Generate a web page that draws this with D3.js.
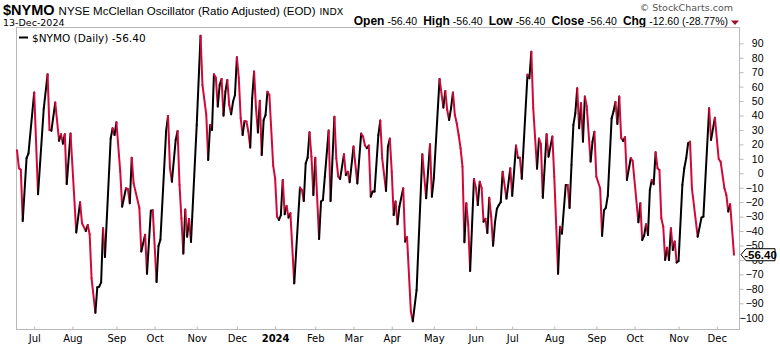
<!DOCTYPE html>
<html><head><meta charset="utf-8">
<script src="https://cdn.jsdelivr.net/npm/d3@7"></script>
<style>body{margin:0;background:#fff}svg{display:block}</style>
</head><body><svg id="c" width="780" height="345"></svg>
<script>
// trading-day index (0 = first session shown, 375 = 13-Dec-2024) and oscillator values
const dayIdx = [0,1,2,3,5,6,9,11,14,16,17,18,20,22,23,24,25,26,28,31,33,34,36,37,38,39,41,42,43,44,45,46,49,50,51,52,54,55,57,58,59,60,61,64,65,67,68,70,71,73,74,75,78,79,80,81,83,84,85,86,87,88,89,90,91,94,96,97,99,100,101,102,103,104,105,106,107,108,109,110,111,112,113,114,115,116,117,118,119,120,121,122,123,124,125,126,127,128,129,130,131,132,134,135,136,137,138,139,140,141,142,143,145,148,149,150,151,152,153,154,155,156,158,159,160,161,163,164,166,167,168,169,171,172,173,174,176,178,180,181,182,183,184,185,186,187,189,190,191,193,194,195,196,197,198,199,200,202,203,204,206,207,209,212,214,216,217,218,221,223,224,225,226,227,228,229,230,231,232,233,234,235,236,237,239,240,241,242,243,244,245,246,247,248,249,250,251,252,253,254,256,258,259,261,262,263,264,267,268,269,270,272,273,274,275,277,278,280,281,283,284,285,287,288,289,290,291,292,293,294,295,296,297,298,300,301,302,303,305,306,307,308,309,311,312,313,314,315,316,317,318,319,321,322,325,326,327,328,329,330,331,332,333,334,335,336,337,338,339,340,341,342,343,344,345,346,348,349,350,351,352,353,356,358,359,362,363,365,367,368,370,371,372,373,375];
const nymo = [16,3.5,2.5,-33,10.5,13.8,56,-14.5,45,68.5,30,29.5,49,22.5,27,20.5,27,-7.5,27.5,-41,-20,-34.6,-40,-35.8,-42.2,-72.7,-96.5,-79,-78.5,-75.5,-38,-58,24.2,31.2,26.5,35.3,1.2,-23.1,-10.4,-10.9,-20.8,10.8,-7,-24,-54.2,-42.5,-69.5,-26,-25.6,-75.2,-50.4,-46,29.3,39.7,3.5,-5.8,23.1,29.3,-8.1,-31.2,-55.6,-25,-43.9,-31.7,-47.5,33.5,95.3,61.2,40.4,9.2,33.5,30,68.5,66.2,46.2,61.2,65.3,39.9,56.5,64.6,47.3,40.8,49.6,54.2,80.3,66,38.1,26.5,36.2,35.8,28.9,17.8,51.9,70.4,45,28.3,50.2,12.7,36.9,40.4,56.5,54.2,5.2,-3.5,-30,-32.3,-28.9,-4.6,-28.4,-22.6,-30.7,-27.7,-76.2,-9.9,-11.5,-19.2,6.9,10.8,28.4,11.5,-15,10.8,-45.5,-19.6,-18.5,-2.3,29.6,-19.2,39.2,10.4,-2.3,-3.9,13.1,-1.2,1.1,-6.2,18.5,-7,27.5,25.4,19.2,17.3,19.2,-16.2,-12.7,-12.7,26.5,36.5,10.4,-12.2,18.5,24,1.1,-28.9,-19.6,-35.3,-23.1,-10.4,-47.3,-44.3,-95.8,-102.5,-80.8,13.2,-17.3,20.1,-16.2,-3.5,65.3,45.5,57,43.8,36.9,45,56,40.4,34.6,26.5,17.3,4.6,-47.8,-20.8,-35.8,-67.6,-3.9,-10,-22,-5.8,-10,-33.5,-31.5,-41.3,-17,-30,-50.2,-34,-24.5,-22,-20,1.1,-17.5,3.5,-15.6,19.2,10.8,10.8,-3.8,68.3,65.8,84.2,45,3.2,24,20.2,-17,27,11.5,25.4,-2.3,-69.5,-37,-41.8,-8.1,-8.1,-24,5.8,33.5,41.5,58.8,31.2,48.5,21.9,53.1,46.2,8.1,21.9,28.8,-2.3,-10.4,-43.3,-25.8,-23.8,-15.5,38,43,49.4,34.2,53.1,24.5,22.4,25,-4.6,10.6,8.5,-33.9,-20.8,-46.2,-43.2,-35.3,-42.7,-11.5,-4.6,-7.6,14.5,3.5,2.3,-31.2,-37,-60,-51.5,-60,-38.1,-53.1,-47.3,-61.8,-60.7,-8.1,3.5,10.4,20.8,21.9,-10.4,-43.9,-30.7,-30,45,23.1,38.5,9.9,8.1,-10.4,-15,-26.5,-21.5,-56.4];
const monthLabels = ["Jul","Aug","Sep","Oct","Nov","Dec","2024","Feb","Mar","Apr","May","Jun","Jul","Aug","Sep","Oct","Nov","Dec"];
const monthIdx = [9,29,52,72,94,115,135,156,176,196,218,240,259,281,303,323,346,366];
const yTicks = [-100,-90,-80,-70,-60,-50,-40,-30,-20,-10,0,10,20,30,40,50,60,70,80,90];
const lastValue = "-56.40";
const headerItems = [["Open","-56.40"],["High","-56.40"],["Low","-56.40"],["Close","-56.40"],["Chg","-12.60 (-28.77%)"]];

const svg = d3.select("#c");
const UP = "#000000", DOWN = "#d3083a";
const x = d3.scaleLinear().domain([0,375]).range([17,734]);
const y = d3.scaleLinear().domain([-100,90]).range([317.7,43.3]);
const L = 16.5, R = 739.5, T = 27.5, B = 329.5;

// title
const t = svg.append("text").attr("x",3).attr("y",15).attr("font-family","Liberation Sans, Arial, sans-serif").attr("fill","#000");
t.append("tspan").attr("font-size","14.5px").attr("font-weight","bold").text("$NYMO");
t.append("tspan").attr("font-size","11.5px").attr("dx",4).text("NYSE McClellan Oscillator (Ratio Adjusted) (EOD)");
t.append("tspan").attr("font-size","9.5px").attr("font-family","DejaVu Sans, sans-serif").attr("dx",4).text("INDX");
svg.append("text").attr("x",3).attr("y",25.5).attr("font-family","DejaVu Sans, sans-serif").attr("font-size","9.5px").text("13-Dec-2024");
svg.append("text").attr("x",733).attr("y",11).attr("text-anchor","end").attr("font-family","DejaVu Sans, sans-serif").attr("font-size","9.5px").attr("fill","#555").text("\u00A9 StockCharts.com");
const h = svg.append("text").attr("x",728).attr("y",25).attr("text-anchor","end").attr("font-family","Liberation Sans, Arial, sans-serif").attr("fill","#000");
headerItems.forEach((d,i)=>{
  h.append("tspan").attr("font-weight","bold").attr("font-size","12px").attr("dx", i? 6:0).text(d[0]);
  h.append("tspan").attr("font-size","10.5px").attr("dx",3).text(d[1]);
});
svg.append("path").attr("d","M731,20.5L739,20.5L735,25Z").attr("fill","#a0102a");

// frame
svg.append("rect").attr("x",L).attr("y",T).attr("width",R-L).attr("height",B-T).attr("fill","none").attr("stroke","#b8b8b8").attr("stroke-width",1);

// y axis
const ya = svg.append("g").attr("transform",`translate(${R},0)`)
  .call(d3.axisRight(y).tickValues(yTicks).tickSize(4).tickFormat(d3.format("d")));
ya.select(".domain").remove();
ya.selectAll(".tick line").attr("stroke","#b8b8b8");
ya.selectAll(".tick text").attr("x",24).attr("text-anchor","end").attr("font-family","Liberation Sans, Arial, sans-serif").attr("font-size","10.5px").attr("fill","#000");

// x axis
const xa = svg.append("g").attr("transform",`translate(0,${B})`)
  .call(d3.axisBottom(x).tickValues(monthIdx).tickSize(-3).tickFormat((d,i)=>monthLabels[i]));
xa.select(".domain").remove();
xa.selectAll(".tick line").attr("stroke","#b8b8b8");
xa.selectAll(".tick text").attr("y",5).attr("dy","0.71em").attr("font-family","DejaVu Sans, sans-serif").attr("font-size","10px").attr("fill","#000")
  .attr("font-weight",(d,i)=>monthLabels[i]==="2024"?"bold":"normal");

// legend
svg.append("line").attr("x1",19).attr("x2",28).attr("y1",37.5).attr("y2",37.5).attr("stroke","#000").attr("stroke-width",2);
svg.append("text").attr("x",32).attr("y",41.5).attr("font-family","DejaVu Sans, sans-serif").attr("font-size","10.5px").text("$NYMO (Daily) " + lastValue);

// line segments coloured by direction
const pts = dayIdx.map((d,i)=>[x(d), y(nymo[i])]);
const segs = d3.pairs(pts.map((p,i)=>({p, v:nymo[i]})));
svg.append("g").selectAll("line").data(segs).join("line")
  .attr("x1",d=>d[0].p[0]).attr("y1",d=>d[0].p[1])
  .attr("x2",d=>d[1].p[0]).attr("y2",d=>d[1].p[1])
  .attr("stroke",d=>d[1].v>=d[0].v?UP:DOWN)
  .attr("stroke-width",2).attr("stroke-linecap","round");

// last value tag
const ly = y(nymo[nymo.length-1]);
svg.append("path").attr("d",`M741,${ly}L746,${ly-6}L775,${ly-6}L775,${ly+6}L746,${ly+6}Z`).attr("fill","#fff").attr("stroke","#000").attr("stroke-width",1);
svg.append("text").attr("x",760.5).attr("y",ly+4).attr("text-anchor","middle").attr("font-family","Liberation Sans, Arial, sans-serif").attr("font-weight","bold").attr("font-size","11.5px").text(lastValue);
</script></body></html>
